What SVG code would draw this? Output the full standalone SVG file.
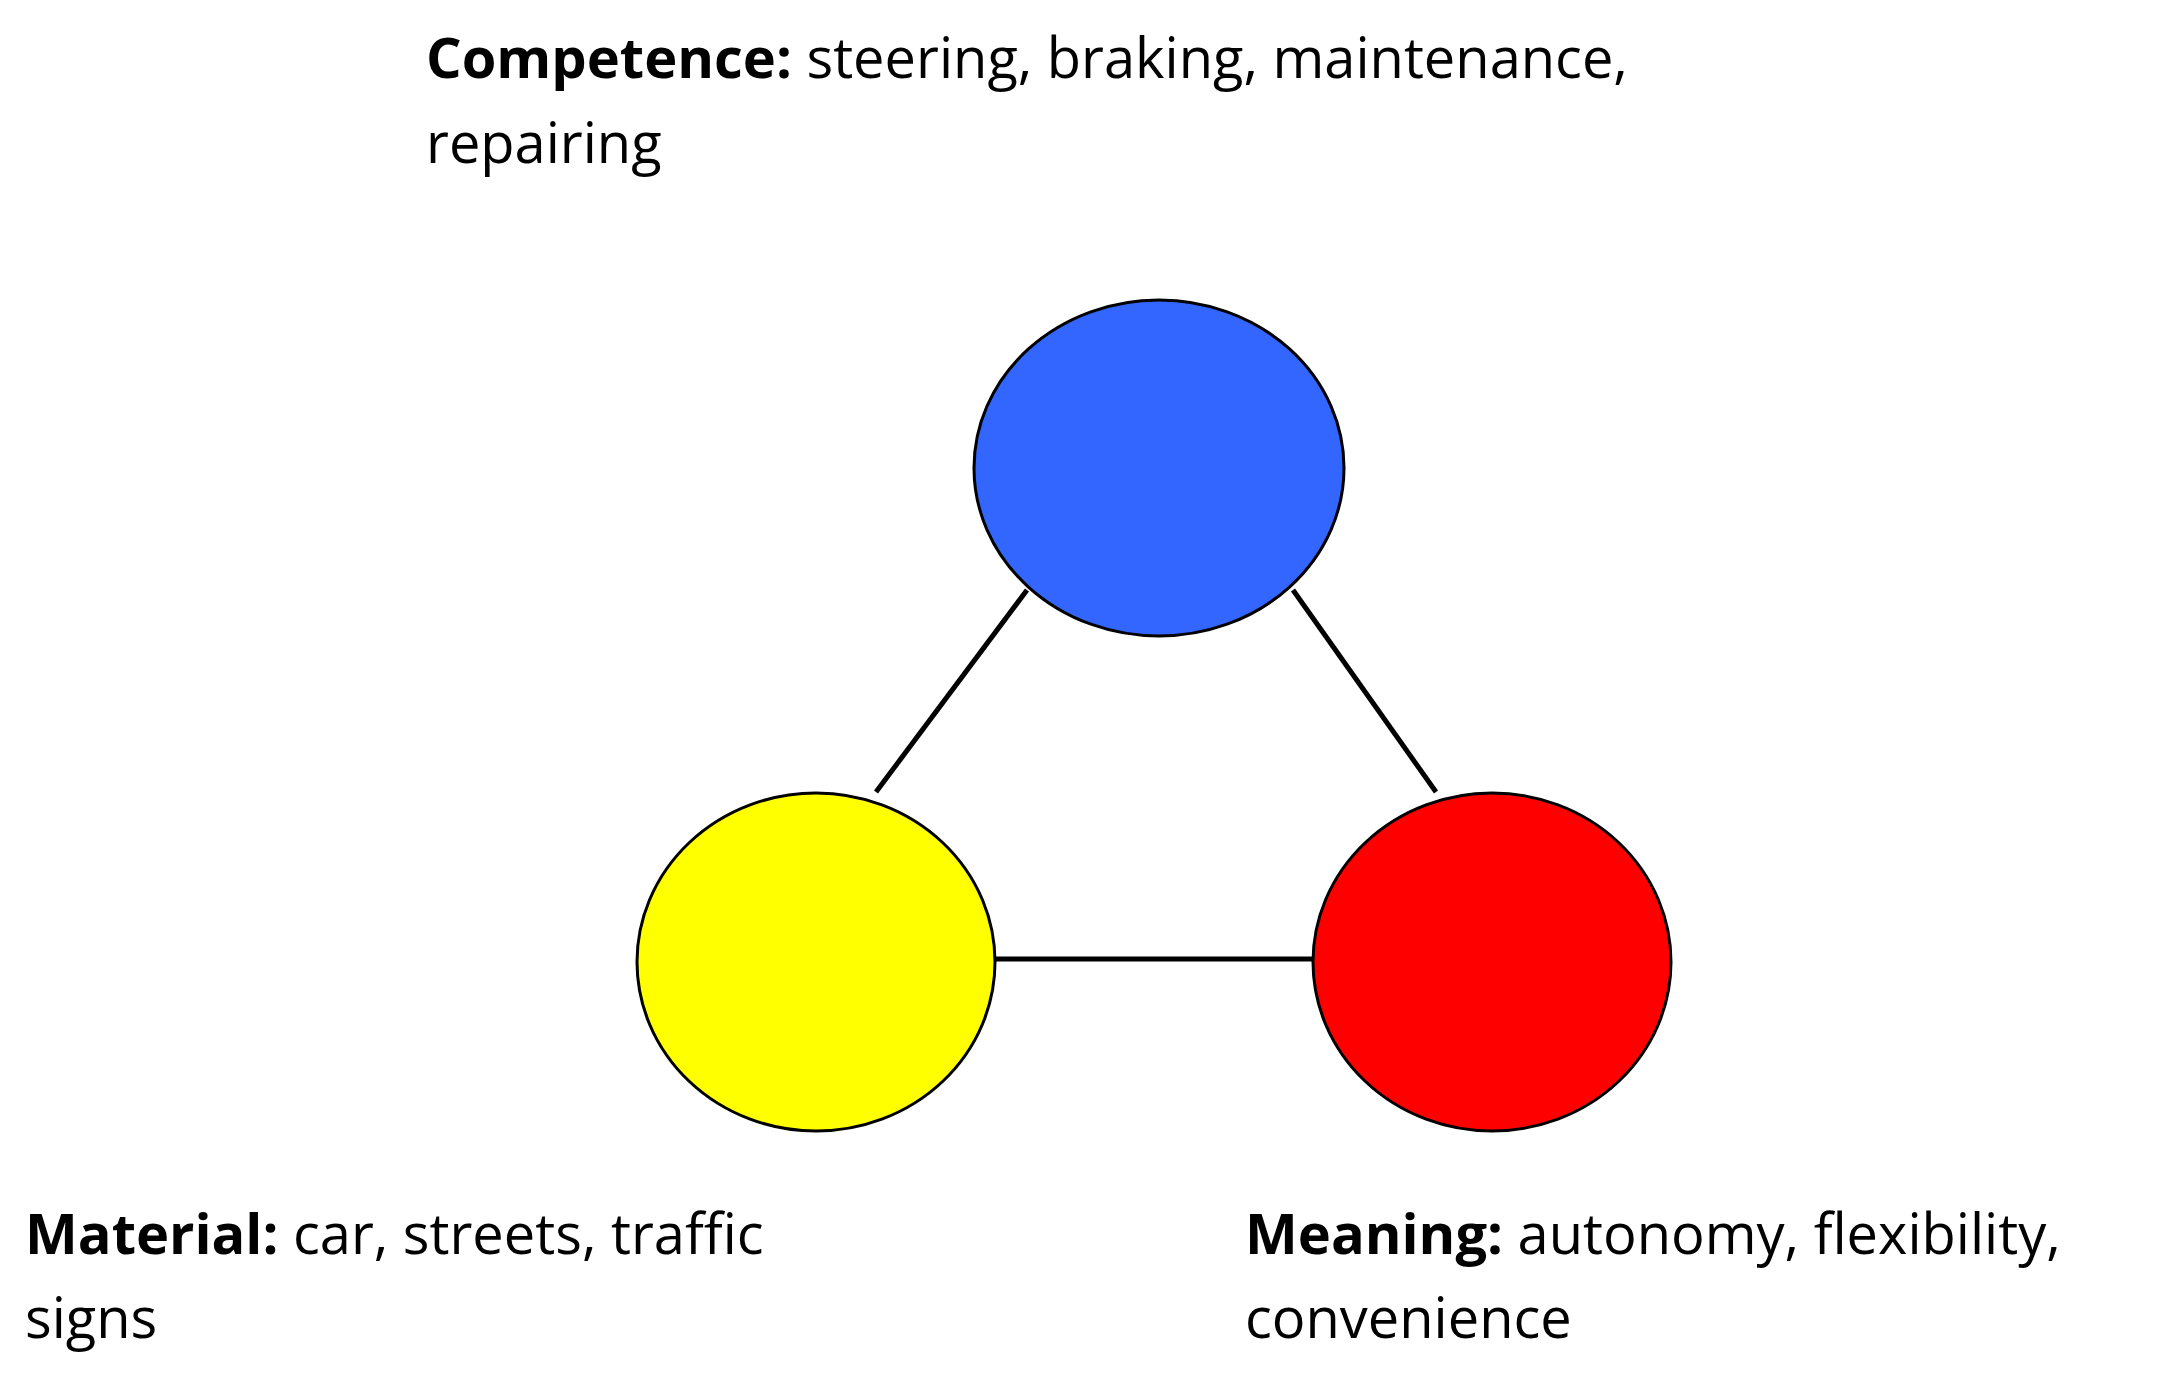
<svg xmlns="http://www.w3.org/2000/svg" width="2166" height="1377" viewBox="0 0 2166 1377">
<style>
text{font-family:"Open Sans","Noto Sans",sans-serif;font-size:56px;fill:#000}
.b{font-weight:bold}
ellipse{stroke:#000;stroke-width:3}
#connectors line{stroke:#000;stroke-width:5}
</style>
<rect width="2166" height="1377" fill="#fff"/>
<g id="connectors">
<line x1="1027" y1="590" x2="876" y2="792"/>
<line x1="1293" y1="590" x2="1436" y2="792"/>
<line x1="996" y1="959" x2="1313" y2="959"/>
</g>
<g id="competence">
<ellipse cx="1159" cy="468" rx="185" ry="168" fill="#3366ff"/>
<text x="426" y="78"><tspan class="b">Competence:</tspan> steering, braking, maintenance,</text>
<text x="426" y="163">repairing</text>
</g>
<g id="material">
<ellipse cx="816" cy="962" rx="179" ry="169" fill="#ffff00"/>
<text x="25" y="1254"><tspan class="b">Material:</tspan> car, streets, traffic</text>
<text x="25" y="1338">signs</text>
</g>
<g id="meaning">
<ellipse cx="1492" cy="962" rx="179" ry="169" fill="#ff0000"/>
<text x="1245" y="1254"><tspan class="b">Meaning:</tspan> autonomy, flexibility,</text>
<text x="1245" y="1338">convenience</text>
</g>
</svg>
